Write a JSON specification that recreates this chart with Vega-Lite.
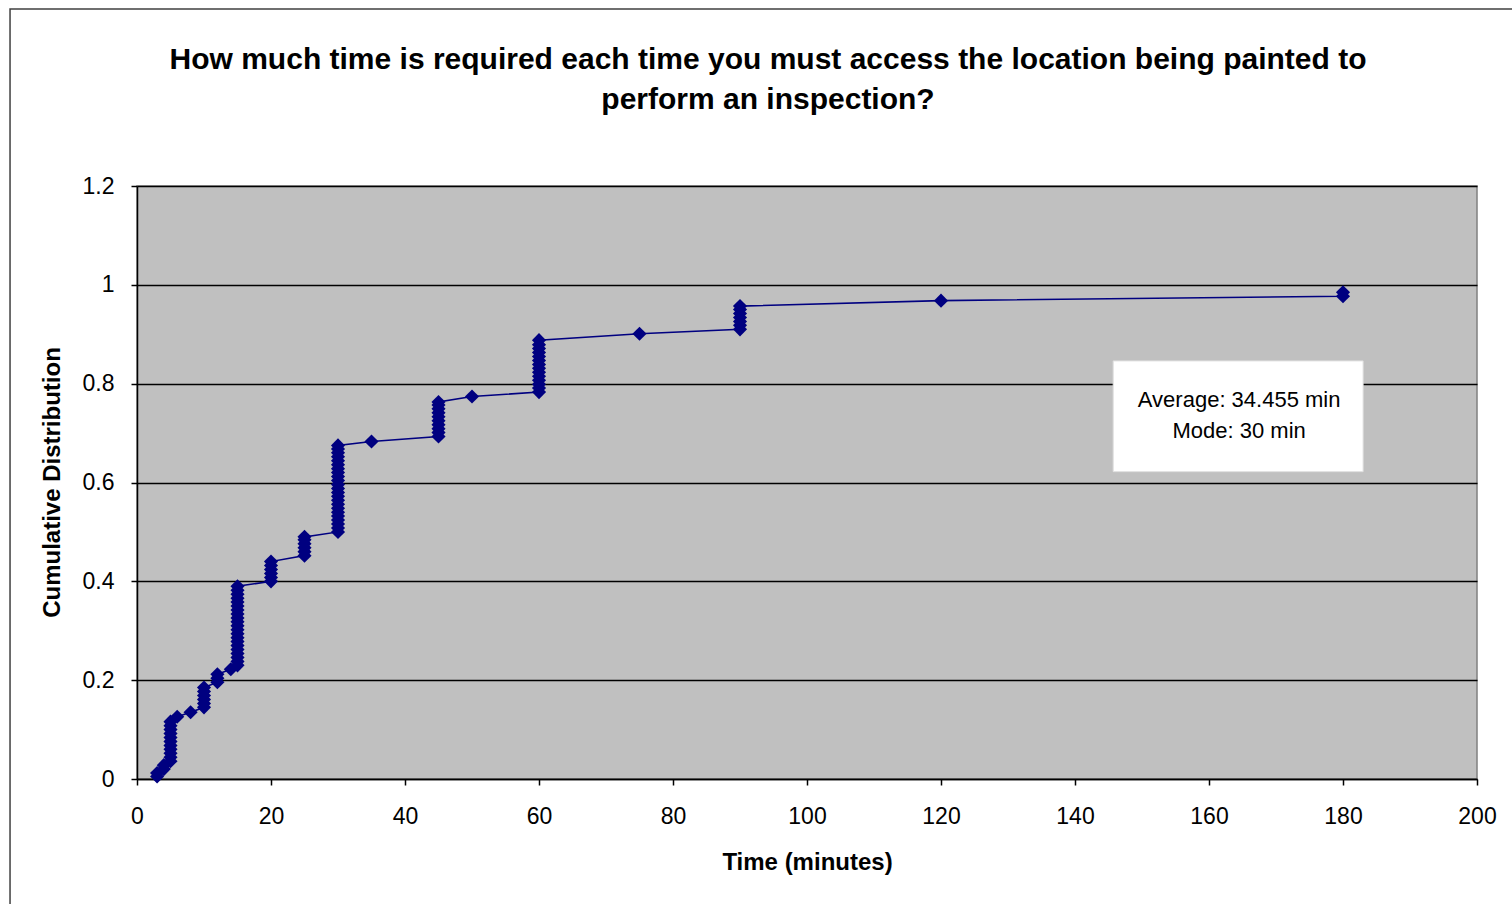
{
  "$schema": "https://vega.github.io/schema/vega-lite/v6.json",
  "width": 1340,
  "height": 593,
  "autosize": {"type": "none"},
  "padding": {"left": 137, "top": 186, "right": 35, "bottom": 125},
  "background": "white",
  "config": {
    "font": "Liberation Sans",
    "view": {"fill": "#C0C0C0", "stroke": "#808080", "strokeWidth": 1.5}
  },
  "title": {
    "text": ["How much time is required each time you must access the location being painted to", "perform an inspection?"],
    "font": "Liberation Sans",
    "fontSize": 30,
    "fontWeight": "bold",
    "color": "#000000",
    "lineHeight": 40,
    "anchor": "middle",
    "dx": -39,
    "offset": -107
  },
  "datasets": {
    "cdf": [
      {"time": 3, "cum": 0.005}, {"time": 3, "cum": 0.012},
      {"time": 4, "cum": 0.020}, {"time": 4, "cum": 0.028},
      {"time": 5, "cum": 0.036}, {"time": 5, "cum": 0.044}, {"time": 5, "cum": 0.052}, {"time": 5, "cum": 0.060},
      {"time": 5, "cum": 0.068}, {"time": 5, "cum": 0.076}, {"time": 5, "cum": 0.084}, {"time": 5, "cum": 0.092},
      {"time": 5, "cum": 0.100}, {"time": 5, "cum": 0.108}, {"time": 5, "cum": 0.116},
      {"time": 6, "cum": 0.126},
      {"time": 8, "cum": 0.135},
      {"time": 10, "cum": 0.145}, {"time": 10, "cum": 0.153}, {"time": 10, "cum": 0.161}, {"time": 10, "cum": 0.169},
      {"time": 10, "cum": 0.177}, {"time": 10, "cum": 0.185},
      {"time": 12, "cum": 0.196}, {"time": 12, "cum": 0.204}, {"time": 12, "cum": 0.212},
      {"time": 14, "cum": 0.222},
      {"time": 15, "cum": 0.230}, {"time": 15, "cum": 0.238}, {"time": 15, "cum": 0.246}, {"time": 15, "cum": 0.254},
      {"time": 15, "cum": 0.262}, {"time": 15, "cum": 0.270}, {"time": 15, "cum": 0.278}, {"time": 15, "cum": 0.286},
      {"time": 15, "cum": 0.294}, {"time": 15, "cum": 0.302}, {"time": 15, "cum": 0.310}, {"time": 15, "cum": 0.318},
      {"time": 15, "cum": 0.326}, {"time": 15, "cum": 0.334}, {"time": 15, "cum": 0.342}, {"time": 15, "cum": 0.350},
      {"time": 15, "cum": 0.358}, {"time": 15, "cum": 0.366}, {"time": 15, "cum": 0.374}, {"time": 15, "cum": 0.382},
      {"time": 15, "cum": 0.390},
      {"time": 20, "cum": 0.400}, {"time": 20, "cum": 0.408}, {"time": 20, "cum": 0.416}, {"time": 20, "cum": 0.424},
      {"time": 20, "cum": 0.432}, {"time": 20, "cum": 0.440},
      {"time": 25, "cum": 0.452}, {"time": 25, "cum": 0.460}, {"time": 25, "cum": 0.468}, {"time": 25, "cum": 0.476},
      {"time": 25, "cum": 0.484}, {"time": 25, "cum": 0.490},
      {"time": 30, "cum": 0.500}, {"time": 30, "cum": 0.508}, {"time": 30, "cum": 0.516}, {"time": 30, "cum": 0.524},
      {"time": 30, "cum": 0.532}, {"time": 30, "cum": 0.540}, {"time": 30, "cum": 0.548}, {"time": 30, "cum": 0.556},
      {"time": 30, "cum": 0.564}, {"time": 30, "cum": 0.572}, {"time": 30, "cum": 0.580}, {"time": 30, "cum": 0.588},
      {"time": 30, "cum": 0.596}, {"time": 30, "cum": 0.604}, {"time": 30, "cum": 0.612}, {"time": 30, "cum": 0.620},
      {"time": 30, "cum": 0.628}, {"time": 30, "cum": 0.636}, {"time": 30, "cum": 0.644}, {"time": 30, "cum": 0.652},
      {"time": 30, "cum": 0.660}, {"time": 30, "cum": 0.668}, {"time": 30, "cum": 0.675},
      {"time": 35, "cum": 0.683},
      {"time": 45, "cum": 0.693}, {"time": 45, "cum": 0.701}, {"time": 45, "cum": 0.709}, {"time": 45, "cum": 0.717},
      {"time": 45, "cum": 0.725}, {"time": 45, "cum": 0.733}, {"time": 45, "cum": 0.741}, {"time": 45, "cum": 0.749},
      {"time": 45, "cum": 0.757}, {"time": 45, "cum": 0.763},
      {"time": 50, "cum": 0.774},
      {"time": 60, "cum": 0.783}, {"time": 60, "cum": 0.791}, {"time": 60, "cum": 0.799}, {"time": 60, "cum": 0.807},
      {"time": 60, "cum": 0.815}, {"time": 60, "cum": 0.823}, {"time": 60, "cum": 0.831}, {"time": 60, "cum": 0.839},
      {"time": 60, "cum": 0.847}, {"time": 60, "cum": 0.855}, {"time": 60, "cum": 0.863}, {"time": 60, "cum": 0.871},
      {"time": 60, "cum": 0.879}, {"time": 60, "cum": 0.888},
      {"time": 75, "cum": 0.901},
      {"time": 90, "cum": 0.910}, {"time": 90, "cum": 0.918}, {"time": 90, "cum": 0.926}, {"time": 90, "cum": 0.934},
      {"time": 90, "cum": 0.942}, {"time": 90, "cum": 0.950}, {"time": 90, "cum": 0.957},
      {"time": 120, "cum": 0.968},
      {"time": 180, "cum": 0.977}, {"time": 180, "cum": 0.985}
    ],
    "box": [
      {"x1": 145.7, "x2": 183.0, "y1": 0.622, "y2": 0.846}
    ],
    "notes": [
      {"x": 164.5, "y": 0.766, "label": "Average: 34.455 min"},
      {"x": 164.5, "y": 0.705, "label": "Mode: 30 min"}
    ],
    "frame": [
      {"x1": -18.95, "x2": 208.5, "y1": 1.558, "y2": -0.27}
    ]
  },
  "layer": [
    {
      "data": {"name": "frame"},
      "mark": {"type": "rect", "fill": null, "stroke": "#404040", "strokeWidth": 1.5, "clip": false},
      "encoding": {
        "x": {"field": "x1", "type": "quantitative"},
        "x2": {"field": "x2"},
        "y": {"field": "y1", "type": "quantitative"},
        "y2": {"field": "y2"}
      }
    },
    {
      "data": {"name": "cdf"},
      "mark": {"type": "line", "color": "#000080", "strokeWidth": 1.6},
      "encoding": {
        "x": {
          "field": "time", "type": "quantitative",
          "scale": {"domain": [0, 200], "nice": false, "zero": true},
          "axis": {
            "title": "Time (minutes)",
            "values": [0, 20, 40, 60, 80, 100, 120, 140, 160, 180, 200],
            "grid": false,
            "domainColor": "#000000", "domainWidth": 1.5,
            "tickColor": "#000000", "tickSize": 6, "tickWidth": 1.5,
            "labelFont": "Liberation Sans", "labelFontSize": 23, "labelColor": "#000000",
            "labelPadding": 20, "labelFlush": false,
            "titleFont": "Liberation Sans", "titleFontSize": 24, "titleFontWeight": "bold", "titleColor": "#000000",
            "titleBaseline": "middle", "titleY": 83
          }
        },
        "y": {
          "field": "cum", "type": "quantitative",
          "scale": {"domain": [0, 1.2], "nice": false},
          "axis": {
            "title": "Cumulative Distribution",
            "values": [0, 0.2, 0.4, 0.6, 0.8, 1, 1.2],
            "format": ".2~f",
            "grid": true, "gridColor": "#000000", "gridWidth": 1.5, "gridOpacity": 1,
            "domainColor": "#000000", "domainWidth": 1.5,
            "tickColor": "#000000", "tickSize": 6, "tickWidth": 1.5,
            "labelFont": "Liberation Sans", "labelFontSize": 23, "labelColor": "#000000",
            "labelPadding": 17, "labelFlush": false,
            "titleFont": "Liberation Sans", "titleFontSize": 24, "titleFontWeight": "bold", "titleColor": "#000000",
            "titleAngle": -90, "titleBaseline": "middle", "titleAlign": "center", "titleX": -85, "titleY": 296
          }
        },
        "order": {"field": "cum", "type": "quantitative"}
      }
    },
    {
      "data": {"name": "cdf"},
      "mark": {"type": "point", "shape": "diamond", "filled": true, "color": "#000080", "size": 200, "opacity": 1},
      "encoding": {
        "x": {"field": "time", "type": "quantitative"},
        "y": {"field": "cum", "type": "quantitative"}
      }
    },
    {
      "data": {"name": "box"},
      "mark": {"type": "rect", "fill": "#FFFFFF", "stroke": "#E0E0E0", "strokeWidth": 1},
      "encoding": {
        "x": {"field": "x1", "type": "quantitative"},
        "x2": {"field": "x2"},
        "y": {"field": "y1", "type": "quantitative"},
        "y2": {"field": "y2"}
      }
    },
    {
      "data": {"name": "notes"},
      "mark": {"type": "text", "font": "Liberation Sans", "fontSize": 22, "color": "#000000", "align": "center", "baseline": "middle"},
      "encoding": {
        "x": {"field": "x", "type": "quantitative"},
        "y": {"field": "y", "type": "quantitative"},
        "text": {"field": "label"}
      }
    }
  ]
}
